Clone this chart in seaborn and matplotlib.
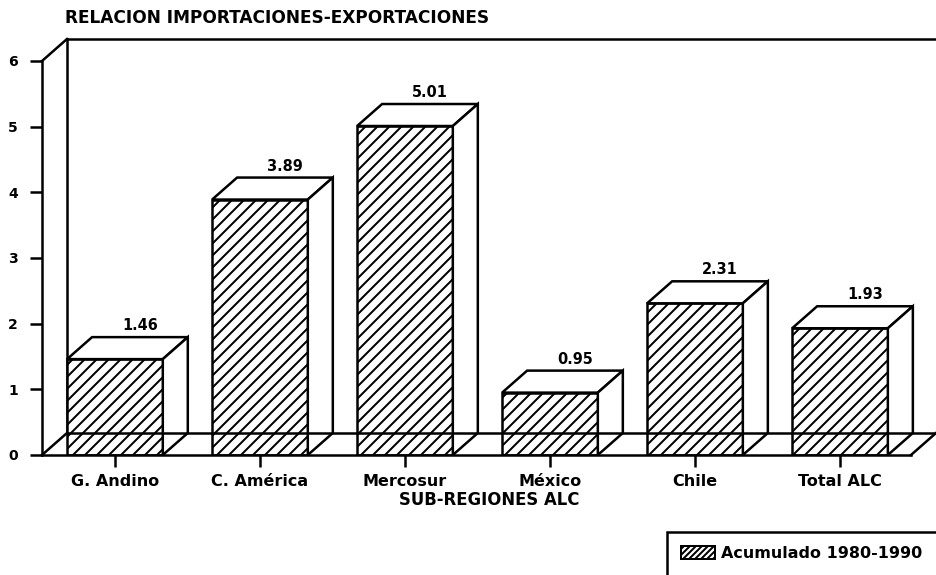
import numpy as np
import pandas as pd
import matplotlib
matplotlib.use("Agg")
import matplotlib.pyplot as plt
from matplotlib.patches import Polygon, Patch
import seaborn as sns

# --- data ---
regiones = ["G. Andino", "C. América", "Mercosur", "México", "Chile", "Total ALC"]
relacion = [1.46, 3.89, 5.01, 0.95, 2.31, 1.93]
serie = "Acumulado 1980-1990"
yticks = [0, 1, 2, 3, 4, 5, 6]

df = pd.DataFrame({"region": regiones, "valor": relacion})

sns.set_theme(style="white")
plt.rcParams["font.family"] = ["DejaVu Sans"]
plt.rcParams["font.weight"] = "bold"
plt.rcParams["text.color"] = "black"
plt.rcParams["hatch.linewidth"] = 2.0

# dpi 72 so that points == pixels
fig = plt.figure(figsize=(936 / 72, 575 / 72), dpi=72)

# depth of the fake 3D look, in data units
ddx = 25 / 145
ddy = 22 / 65.67
x0, x1 = -0.503, 5.662

ax = fig.add_axes([42 / 936, 120 / 575, 1 - 42 / 936, 416 / 575])
sns.barplot(data=df, x="region", y="valor", color="white", edgecolor="black",
            linewidth=2.5, width=0.66, hatch="//", ax=ax, zorder=2)
ax.set_xlim(x0, x1)
ax.set_ylim(0, 6 + ddy)

lw = 2.5
kw = dict(color="black", lw=lw, clip_on=False, solid_capstyle="projecting")

# top and side faces of every bar
for p, v in zip(ax.patches, relacion):
    left = p.get_x()
    right = left + p.get_width()
    h = p.get_height()
    top = Polygon([(left, h), (left + ddx, h + ddy), (right + ddx, h + ddy), (right, h)],
                  closed=True, facecolor="white", edgecolor="black", lw=lw, zorder=2)
    side = Polygon([(right, h), (right + ddx, h + ddy), (right + ddx, ddy), (right, 0)],
                   closed=True, facecolor="white", edgecolor="black", lw=lw, zorder=2)
    ax.add_patch(top)
    ax.add_patch(side)
    ax.annotate(f"{v:.2f}", (left + p.get_width() / 2 + ddx, h + ddy),
                xytext=(0, 4), textcoords="offset points", ha="center", va="bottom",
                fontsize=14.5, fontweight="bold", color="black")

# floor and back wall
ax.plot([x0 + ddx, x1], [ddy, ddy], zorder=3, **kw)
ax.plot([x0, x0 + ddx], [0, ddy], zorder=3, **kw)
ax.plot([x1 - ddx, x1], [0, ddy], zorder=3, **kw)
ax.plot([x0 + ddx, x0 + ddx], [ddy, 6 + ddy], zorder=1, **kw)
ax.plot([x0, x0 + ddx], [6, 6 + ddy], zorder=3, **kw)
ax.plot([x0 + ddx, x1], [6 + ddy, 6 + ddy], zorder=3, **kw)

for s in ["top", "right"]:
    ax.spines[s].set_visible(False)
ax.spines["left"].set_bounds(0, 6)
ax.spines["bottom"].set_bounds(x0, x1 - ddx)
for s in ["left", "bottom"]:
    ax.spines[s].set_linewidth(lw)
    ax.spines[s].set_color("black")

ax.set_yticks(yticks)
ax.tick_params(axis="y", length=12, width=2.5, pad=12, labelsize=14, colors="black", left=True)
ax.tick_params(axis="x", length=12, width=2.5, pad=7, labelsize=16, colors="black", bottom=True)
for t in ax.get_xticklabels() + ax.get_yticklabels():
    t.set_fontweight("bold")

ax.set_ylabel("")
ax.set_xlabel("SUB-REGIONES ALC", fontsize=16.5, fontweight="bold", labelpad=2, color="black")

fig.text(65 / 936, 1 - 18 / 575, "RELACION IMPORTACIONES-EXPORTACIONES",
         ha="left", va="center", fontsize=17, fontweight="bold", color="black")

handle = Patch(facecolor="white", edgecolor="black", hatch="////", lw=2, label=serie)
leg = fig.legend(handles=[handle], loc="upper left", bbox_to_anchor=(667 / 936, 1 - 532 / 575),
                 frameon=True, fancybox=False, edgecolor="black", framealpha=1,
                 fontsize=16, handlelength=2.1, handleheight=0.85, handletextpad=0.4,
                 borderpad=0.9, borderaxespad=0)
leg.get_frame().set_linewidth(2.5)
for t in leg.get_texts():
    t.set_fontweight("bold")
    t.set_color("black")

fig.savefig("out.png", dpi=72)
